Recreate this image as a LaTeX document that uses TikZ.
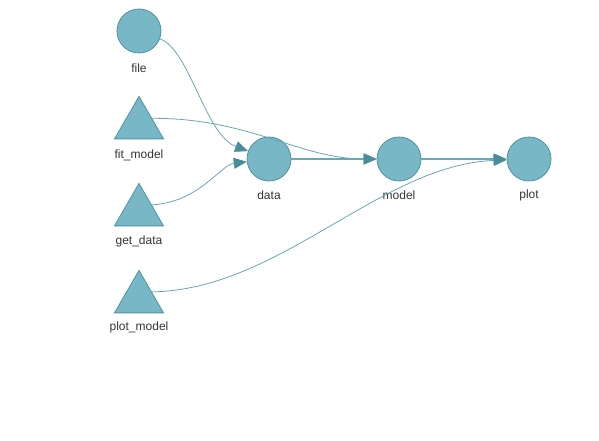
\documentclass[tikz,border=0pt]{standalone}
\usepackage{fontspec}
\setmainfont{Liberation Sans}
\usetikzlibrary{arrows.meta,shapes.geometric}
\definecolor{nodefill}{HTML}{78B7C5}
\definecolor{nodeline}{HTML}{4E93A2}
\definecolor{edgeline}{HTML}{6AA7B5}
\definecolor{tipcol}{HTML}{4A8C99}
\definecolor{txt}{HTML}{343434}
\begin{document}
\begin{tikzpicture}[x=1pt,y=-1pt,
  target/.style={circle,minimum size=44pt,inner sep=0pt,fill=nodefill,draw=nodeline,line width=0.8pt},
  func/.style={regular polygon,regular polygon sides=3,minimum size=56.6pt,inner sep=0pt,fill=nodefill,draw=nodeline,line width=0.8pt},
  lbl/.style={text=txt,font=\fontsize{12}{14}\selectfont,inner sep=0pt},
  dep/.style={draw=edgeline,line width=0.8pt,-{Triangle[length=13pt,width=11pt,fill=tipcol,color=tipcol]}},
  flow/.style={dep,line width=1.3pt}]
\useasboundingbox (0,0) rectangle (599,441);
% targets
\node[target] (file)  at (139,31)  {};
\node[target] (data)  at (269,159) {};
\node[target] (model) at (399,159) {};
\node[target] (plot)  at (529,159) {};
% functions
\node[func] (fitmodel)  at (139,124.7) {};
\node[func] (getdata)   at (139,211.7) {};
\node[func] (plotmodel) at (139,298.7) {};
% labels
\node[lbl] (lfile)      at (139,68)  {file};
\node[lbl] (lfitmodel)  at (139,155) {fit\_model};
\node[lbl] (lgetdata)   at (139,241) {get\_data};
\node[lbl] (lplotmodel) at (139,327) {plot\_model};
\node[lbl] (ldata)      at (269,195) {data};
\node[lbl] (lmodel)     at (399,195) {model};
\node[lbl] (lplot)      at (529,195) {plot};
% dependencies
\draw[dep] (file) .. controls (190,50) and (205,135) .. (data);
\draw[dep] (fitmodel.26) .. controls (250,118) and (300,159) .. (model);
\draw[dep] (getdata.28) .. controls (200,202) and (220,165) .. (data);
\draw[dep] (plotmodel.28) .. controls (280,290) and (380,165) .. (plot);
\draw[flow] (data) -- (model);
\draw[flow] (model) -- (plot);
\end{tikzpicture}
\end{document}
